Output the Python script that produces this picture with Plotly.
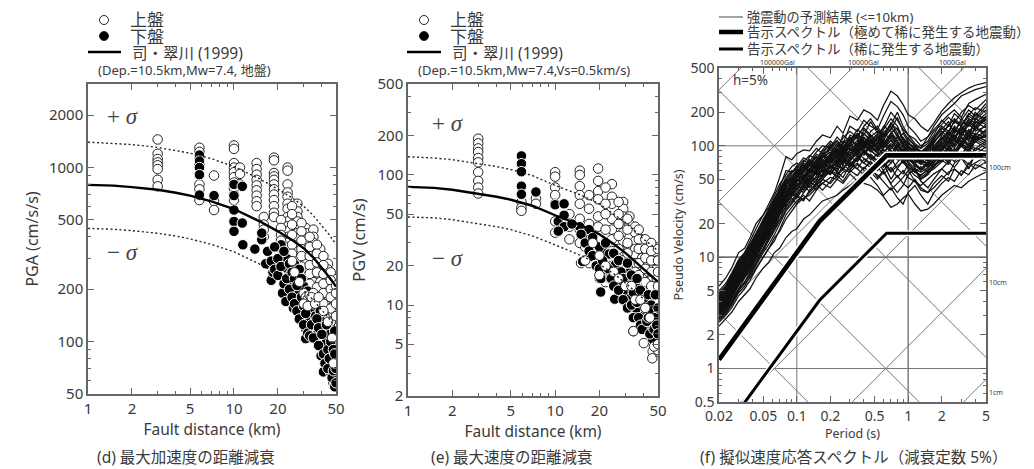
import plotly.graph_objects as go
import math

W, H = 1034, 469
FONT = "Noto Sans, Noto Sans CJK JP, sans-serif"
TXT = "#3a3a3a"
AX = "#666666"

# ---------- attenuation curves ----------
curve_r = [1, 1.5, 2, 3, 4, 5, 7, 10, 15, 20, 25, 30, 35, 40, 45, 50]
pga_mean = [795, 787, 772, 745, 717, 690, 640, 578, 491, 430, 383, 344, 304, 265, 234, 207]
pga_plus = [1400, 1380, 1355, 1305, 1255, 1210, 1125, 1012, 860, 752, 670, 600, 530, 464, 410, 362]
pga_minus = [447, 442, 434, 419, 404, 389, 362, 328, 279, 245, 219, 197, 173, 152, 135, 119]
pgv_mean = [81, 79.5, 77, 72, 68, 64.5, 58, 49, 41, 35, 29.5, 25.2, 21.5, 18.9, 16.8, 15.1]
pgv_plus = [138, 135, 131, 122, 116, 110, 99, 83, 70, 60, 50, 43, 37, 32, 29, 26]
pgv_minus = [47.5, 46.8, 45.3, 42.4, 40, 38, 34, 29, 24, 20.6, 17.4, 14.8, 12.6, 11.1, 9.9, 8.9]

# ---------- PGA scatter ----------
pga_up_r = [3]*8 + [5.8]*7 + [7.3]*3 + [10]*10 + [11]*3 + [14.3]*9 + [18.8]*12 + [16]*4 + [23.3]*14 + [21]*5 + [27.2]*10 + [31]*9 + [35]*11 + [39]*10 + [44]*10 + [48]*12 + [25]*7 + [29]*7 + [33]*6 + [37]*6 + [41]*6 + [46]*6 + [50]*7
pga_up_v = [1450, 1200, 1120, 1070, 1030, 980, 850, 780,
            1300, 1230, 1150, 1050, 800, 750, 650,
            900, 640, 570,
            1340, 1280, 1060, 1000, 940, 880, 820, 760, 700, 650,
            1000, 920, 800,
            1060, 980, 910, 850, 790, 740, 690, 640, 600,
            1140, 1100, 930, 890, 850, 800, 750, 700, 650, 600, 550, 520,
            520, 470, 440, 400,
            1000, 960, 800, 720, 680, 620, 580, 520, 490, 460, 430, 400, 370, 350,
            500, 450, 410, 380, 340,
            620, 560, 520, 490, 450, 420, 390, 360, 330, 300,
            450, 420, 390, 360, 330, 300, 280, 250, 220,
            440, 400, 370, 340, 310, 290, 260, 240, 220, 190, 170,
            340, 300, 280, 260, 240, 220, 200, 180, 160, 150,
            280, 260, 240, 220, 200, 190, 170, 150, 135, 120,
            230, 210, 190, 175, 160, 145, 130, 120, 95, 80, 65, 58,
            600, 540, 470, 410, 360, 320, 280,
            480, 430, 380, 340, 310, 270, 240,
            400, 350, 310, 275, 245, 215,
            360, 320, 285, 250, 205, 180,
            310, 275, 245, 215, 190, 165,
            250, 225, 200, 180, 155, 130,
            210, 190, 165, 140, 115, 90, 70]
pga_low_r = [5.8, 5.8, 5.8, 5.8, 5.8, 7.3, 10, 10, 10, 10, 10, 11.4, 11.4, 11.5, 13.9, 15.5, 16.5, 15.5, 18, 18.5, 20, 21, 21.3, 21.5, 22.7, 23, 23, 24, 25, 25.5, 26, 27, 28, 29, 30, 31, 31, 31, 33, 34, 36, 36, 36, 37, 39, 39.5, 40, 40.5, 41, 42, 43, 45, 46, 46, 47, 47, 49, 49, 49, 49,
             17, 18, 19, 19, 20, 20, 21, 22, 22, 23, 24, 24, 25, 25, 26, 26, 27, 27, 28, 28, 29, 29, 30, 30, 31, 32, 32, 33, 33, 34, 35, 35, 37, 38, 38, 40, 41, 42, 43, 44, 44, 45, 46, 47, 48, 48, 49, 49, 50, 50]
pga_low_v = [1180, 1090, 1000, 910, 695, 690, 800, 690, 570, 490, 430, 780, 480, 360, 340, 385, 280, 420, 225, 250, 350, 360, 310, 190, 170, 263, 300, 240, 214, 156, 278, 190, 170, 140, 208, 167, 118, 104, 130, 150, 140, 123, 105, 110, 150, 83, 130, 95, 67, 120, 100, 110, 89, 66, 73, 85, 100, 75, 62, 55,
             330, 290, 260, 350, 300, 240, 270, 215, 330, 230, 200, 280, 180, 250, 165, 230, 150, 210, 260, 135, 180, 230, 125, 160, 145, 195, 112, 108, 175, 125, 105, 165, 135, 95, 120, 110, 85, 75, 125, 90, 70, 80, 100, 62, 90, 68, 115, 85, 70, 58]
pga_up_top_r = [30, 31, 32, 33, 34, 35, 30, 32, 34, 36, 38, 41, 44, 47, 48, 28, 26, 25]
pga_up_top_v = [190, 180, 175, 185, 170, 190, 165, 160, 180, 165, 180, 150, 130, 105, 75, 220, 250, 290]

# ---------- PGV scatter ----------
pgv_up_r = [3]*10 + [5.9]*3 + [7.4]*2 + [10]*7 + [14.7]*8 + [19.6]*8 + [24.3]*8 + [29]*9 + [32]*8 + [35]*9 + [39]*9 + [43]*9 + [46]*10 + [49]*9 + [34, 40, 15, 16, 21, 26] + [12.5]*3 + [17]*6 + [22]*8 + [27]*7 + [31]*6 + [37]*6 + [41]*7 + [45]*7 + [50]*8
pgv_up_v = [190, 175, 160, 150, 135, 125, 105, 90, 80, 72,
            62, 56, 53, 66, 60,
            105, 97, 80, 70, 60, 44, 36,
            108, 100, 82, 70, 60, 46, 38, 30,
            112, 90, 75, 65, 48, 40, 32, 22,
            85, 68, 60, 46, 38, 32, 26, 20,
            62, 55, 48, 42, 36, 31, 26, 21, 17,
            48, 42, 37, 33, 28, 24, 19, 15,
            40, 36, 31, 27, 24, 21, 18, 14, 11,
            32, 29, 26, 23, 20, 17, 14, 11, 9,
            30, 27, 24, 21, 18, 15, 12, 9.5, 7.5,
            28, 25, 22, 19, 16.5, 14, 11, 8, 5.8, 4.4,
            25, 22, 19, 16, 14, 11, 8.5, 6.5, 4.8,
            6.3, 5.1, 21, 28, 18, 14,
            50, 40, 32,
            70, 55, 42, 34, 26, 21,
            80, 60, 50, 38, 30, 24, 19, 15,
            62, 50, 42, 34, 27, 21, 16,
            46, 38, 30, 25, 20, 15,
            38, 32, 27, 21, 17, 13,
            32, 27, 23, 19, 15, 12, 9,
            30, 26, 22, 18, 14, 10, 7,
            27, 22, 18, 14, 11, 8, 6, 4.5]
pgv_low_r = [5.9, 5.9, 5.9, 5.9, 5.9, 7.4, 10, 10.5, 11.5, 11.5, 11.5, 10.5, 14.7, 15.4, 15.9, 17, 18.3, 20.4, 21, 20, 23.3, 25.4, 25.8, 26, 27, 30.6, 30.6, 30.6, 31.7, 33, 35, 35.8, 36, 38, 40.7, 40.7, 42, 45.8, 45.8, 47,
             13, 15, 16, 17, 18, 18, 19, 20, 20, 20.5, 21, 22, 23, 24, 25, 25, 27, 27, 28, 29, 29, 31, 31, 32, 33, 33, 34, 34, 36, 36, 37, 38, 38, 39, 40, 41, 42, 43, 43, 44, 45, 46, 47, 48, 48, 49, 50, 50]
pgv_low_v = [140, 122, 106, 82, 71, 74, 59, 44, 60, 49, 40, 37, 40, 21.6, 34, 38, 29.5, 12.6, 27, 16, 24.7, 11.1, 20.6, 17.6, 14.5, 15.3, 12.8, 10.3, 17.6, 11.5, 14.5, 9.3, 12, 11, 8.5, 6.9, 9.8, 7.2, 5.5, 8.5,
             42, 35, 30, 26, 33, 24, 20, 28, 19, 16, 22, 30, 19, 16, 25, 14, 22, 13, 18, 16, 11, 21, 9.5, 14, 17, 10, 12.5, 8, 16, 10.5, 8, 13, 7, 6.5, 11, 9.5, 7.5, 12, 8, 6, 10, 9, 6.5, 12, 8, 7, 9.5, 6]
pgv_up_top_r = [18, 20, 22, 25, 27, 30, 33, 35, 38, 41, 44, 47, 50, 20, 16, 45.7, 34]
pgv_up_top_v = [30, 24, 20, 18, 16, 14, 14, 11, 11, 9.5, 8, 4.8, 5, 17, 22, 3.9, 6.3]

# ---------- response spectra ----------
periods = [0.02, 0.023, 0.026, 0.03, 0.034, 0.038, 0.043, 0.05, 0.056, 0.063, 0.07, 0.08, 0.09, 0.1, 0.115, 0.13, 0.15, 0.17, 0.2, 0.23, 0.26, 0.3, 0.35, 0.4, 0.46, 0.53, 0.6, 0.7, 0.8, 0.9, 1.0, 1.15, 1.3, 1.5, 1.7, 2.0, 2.3, 2.6, 3.0, 3.5, 4.0, 5.0]
s01 = [5.5,6.5,8,11,12,15,20,24,30,38,52,80,75,85,92,90,110,125,118,150,130,185,170,210,195,170,230,310,280,235,190,175,150,135,160,205,240,270,300,330,350,370]
s02 = [2.4,2.8,3.2,4,4.6,5.2,6.5,8,9,11,12,15,17,18,22,24,28,32,34,36,40,44,50,46,44,40,35,28,30,34,37,30,26,27,30,36,40,44,42,48,52,58]
s03 = [4.8,5.5,7,9,11,13,16,22,27,33,42,60,58,65,78,72,88,100,96,120,105,150,135,170,150,140,185,250,225,190,150,130,110,120,150,190,215,240,280,300,320,340]
s04 = [2.8,3.2,3.8,5,5.8,6.5,8,10,12,15,17,22,26,30,34,36,42,46,52,50,58,62,70,60,58,55,48,40,46,52,60,48,40,38,42,50,58,62,55,65,70,80]
s05 = [3.5,4,5,6.5,8,9,11,15,19,23,30,36,44,40,52,60,55,72,68,85,78,100,88,110,95,120,105,130,110,85,92,75,70,85,100,120,105,140,125,155,140,175]
s06 = [3,3.6,4.4,5.5,7,8.5,10,13,16,21,26,32,38,46,42,50,62,58,78,70,90,82,105,92,115,100,80,95,120,105,80,70,62,70,78,92,120,100,135,110,150,120]
s07 = [4,4.8,6,8,9.5,11,14,18,23,29,34,45,50,62,58,70,66,85,92,80,105,120,95,130,110,95,125,160,130,100,110,90,75,95,115,140,165,130,175,150,200,160]
s08 = [3.2,3.8,4.6,6,7,8,10.5,14,17,20,25,30,36,42,38,46,52,60,55,66,62,75,85,78,70,62,72,60,70,82,70,58,55,60,68,75,85,95,82,100,90,105]
s09 = [4.4,5.2,6.5,8.5,10,12,15,20,25,32,38,50,46,58,70,65,80,72,95,110,90,125,115,100,135,150,120,140,180,135,115,100,95,105,125,170,150,195,170,210,185,240]
s10 = [2.9,3.4,4.2,5.2,6.5,7.5,9.5,12,15,18,24,28,34,30,38,44,40,50,60,52,68,60,78,88,75,85,70,50,62,75,85,65,50,55,65,80,70,90,100,85,110,95]
s11 = [3.8,4.5,5.5,7.5,8.5,10,13,17,21,27,30,42,48,55,50,62,75,68,82,95,85,110,125,105,90,110,130,115,95,120,100,80,85,100,90,115,135,110,150,125,165,145]
s12 = [3.4,4,4.8,6.2,7.5,9,11.5,14,18,22,28,34,40,36,46,55,48,65,58,75,70,88,80,100,115,95,85,105,90,70,78,85,70,65,75,95,85,105,120,100,125,110]
s13 = [5,5.8,7.2,9.5,11,14,18,24,28,36,45,55,65,70,62,80,95,85,105,90,125,110,140,125,165,130,145,200,170,140,125,105,95,120,140,165,190,210,180,240,260,290]
s14 = [2.7,3.1,3.7,4.8,5.5,6.8,8.5,11,13,16,20,26,30,35,32,40,45,40,48,58,52,68,62,55,65,52,60,45,38,44,55,62,48,42,50,62,55,70,78,62,85,72]
s15 = [3.6,4.3,5.2,7,8,9.5,12,16,20,26,32,38,46,52,60,52,66,75,70,88,95,82,108,95,125,110,95,120,100,90,105,95,85,72,95,105,125,145,120,160,135,150]
s16 = [4.2,4.9,6.2,7.8,9.5,11.5,14.5,19,24,28,36,48,42,55,65,75,60,85,78,100,92,115,100,140,120,105,140,175,150,115,95,85,78,90,110,130,150,175,155,190,220,200]
s17 = [3.1,3.7,4.5,5.8,6.8,8.2,10,13.5,16,20,26,30,36,44,40,48,58,52,64,72,60,80,72,88,80,72,60,70,85,78,65,58,65,58,70,85,75,90,105,88,115,100]
s18 = [3.9,4.6,5.8,7.2,9,10.5,13,17,22,28,32,44,52,48,58,68,62,78,88,75,95,105,120,100,110,125,105,125,110,95,85,95,90,80,85,110,130,120,140,170,150,185]
s19 = [2.6,3,3.5,4.5,5.2,6.2,7.8,10,12,14,18,24,28,32,36,32,40,46,42,50,46,56,48,58,52,44,36,42,34,30,38,44,36,30,38,46,52,48,60,55,68,62]
s20 = [4.6,5.4,6.8,9,10.5,12.5,16,21,26,34,40,52,60,56,72,82,76,92,110,98,118,135,118,150,175,140,120,155,200,150,125,115,100,110,135,155,180,160,200,230,210,260]
s21 = [3.3,3.9,4.7,6.2,7.2,8.8,11,14.5,18,23,27,35,42,50,44,52,60,72,62,70,80,72,90,82,100,88,78,90,75,85,75,68,60,68,80,72,92,82,100,92,115,125]
s22 = [3.7,4.4,5.4,6.8,8.2,9.8,12.5,16.5,21,25,33,40,45,54,64,56,70,64,86,76,100,92,85,118,100,90,110,95,120,100,88,78,72,85,98,88,110,125,105,135,115,140]
s23 = [4.1,4.7,6,7.6,9.2,11,14,18,22,30,35,46,54,60,52,68,80,70,84,105,88,105,130,112,98,118,102,130,145,110,98,88,82,78,92,120,100,130,145,120,175,155]
s24 = [3,3.5,4.3,5.6,6.6,7.8,9.8,13,15.5,19,24,31,35,40,48,42,50,56,68,60,72,66,82,70,64,76,66,78,62,56,68,60,52,58,62,72,82,72,88,78,95,88]
s25 = [4.5,5.2,6.6,8.8,10.2,12,15.5,20.5,25,31,39,48,56,66,58,74,70,90,100,86,110,100,125,145,125,110,150,135,110,130,108,92,88,100,120,150,135,165,150,185,170,210]
s26 = [3.5,4.1,5,6.6,7.8,9.2,11.5,15.5,19.5,24,29,37,43,48,56,48,58,68,76,66,84,78,92,100,88,95,115,100,85,100,90,72,78,92,82,100,120,100,130,115,145,130]
s27 = [4.3,5,6.3,8.2,9.8,11.8,15,19.5,24,30,37,47,44,53,62,70,64,80,74,92,82,98,112,96,108,130,112,145,125,105,118,100,88,82,105,135,120,150,135,175,160,195]
s28 = [3.2,3.7,4.6,5.9,7,8.4,10.8,14,17.5,21,26,33,39,35,44,52,46,56,66,58,76,68,74,92,78,68,88,74,100,88,72,62,58,64,72,80,95,85,105,95,120,105]
s29 = [3.3,3.9,4.9,6.4,7.6,9,11.2,15,18,23,28,36,40,47,54,60,56,66,72,82,74,90,100,86,96,108,90,100,84,92,82,74,68,76,88,104,92,112,98,122,108,128]
s30 = [3.6,4.2,5.3,6.9,8.4,9.6,12.8,16,20.5,24.5,31,39,47,43,50,58,68,62,74,66,86,96,84,104,92,80,96,112,94,78,86,78,72,70,82,96,112,96,118,104,130,118]
s31 = [2.9,3.3,4,5.1,6,7.2,9,12,14.5,18,22,29,32,38,44,39,47,52,58,54,62,58,68,62,72,64,56,64,52,60,52,48,44,50,56,62,72,64,78,68,82,76]
s32 = [4,4.7,5.9,7.4,8.8,10.8,13.5,17.5,22.5,26,34,41,49,57,66,58,72,82,76,94,84,104,92,120,104,118,100,122,105,88,96,86,80,90,108,128,112,142,128,165,145,180]
s33 = [3.4,3.9,5,6.4,7.4,8.8,11.2,14.8,19,22,28,35,40,44,52,46,60,54,66,62,78,70,76,90,82,72,84,70,82,94,78,66,62,72,64,84,98,88,110,100,122,112]
s34 = [4.2,5,6.1,8.1,9.2,11.4,14.2,18.5,23,27,35,44,40,51,59,66,72,64,82,90,78,92,105,88,102,120,98,112,95,85,92,80,74,86,100,116,135,118,150,132,160,170]
s35 = [3.7,4.3,5.5,7,8.6,10,12.2,17,20,25.5,31,37,44,50,46,56,64,58,72,80,68,84,94,104,90,82,92,84,102,90,78,70,76,66,84,100,90,115,102,128,118,135]
s36 = [3.1,3.6,4.4,5.7,6.7,8,10.2,13.2,16.5,19.5,25,32,37,34,42,47,44,54,60,56,64,70,62,76,68,60,70,58,66,72,62,54,50,56,66,74,68,84,76,92,84,98]
s37 = [4.4,5.1,6.4,8.3,10,11.8,15.2,20,24.5,32,36,46,52,58,68,60,74,82,96,84,100,115,100,128,112,100,132,150,120,105,96,88,84,94,112,125,155,135,165,150,190,175]
s38 = [3.5,4.2,5.1,6.7,7.9,9.4,11.8,15.8,19,24.2,30,38,42,48,54,62,58,70,64,78,88,76,90,98,108,92,102,88,76,88,98,84,76,68,78,92,104,118,100,124,112,122]
s39 = [2.8,3.3,3.9,5,5.9,7,8.8,11.5,14,17,21,27,31,36,33,38,44,50,46,54,48,60,54,64,58,50,58,46,54,46,42,50,42,38,46,54,48,62,54,70,62,72]
s40 = [3.9,4.4,5.7,7.2,8.7,10.4,13,17.2,21.5,26.5,32,43,46,54,48,62,70,64,80,72,90,82,96,110,96,86,105,92,78,90,100,90,80,74,90,108,96,122,110,140,125,155]
s41 = [3.3,3.8,4.8,6.1,7.2,8.6,11,14.2,17.8,21.5,27,34,38,44,50,44,54,62,56,68,74,64,78,70,84,74,64,76,88,74,64,58,54,62,74,82,72,92,82,105,94,110]
s42 = [4.7,5.5,6.9,9.2,10.8,13,16.5,22,26.5,33,41,50,58,62,74,68,84,78,100,112,96,115,128,108,120,135,118,160,140,115,105,98,86,96,118,145,128,170,150,195,175,225]
spectra = [s01,s02,s03,s04,s05,s06,s07,s08,s09,s10,s11,s12,s13,s14,s15,s16,s17,s18,s19,s20,s21,s22,s23,s24,s25,s26,s27,s28,s29,s30,s31,s32,s33,s34,s35,s36,s37,s38,s39,s40,s41,s42]
assert all(len(s) == len(periods) for s in spectra)
assert len(pga_up_r) == len(pga_up_v) and len(pga_low_r) == len(pga_low_v)
assert len(pgv_up_r) == len(pgv_up_v) and len(pgv_low_r) == len(pgv_low_v)

code_T = [0.02, 0.16, 0.64, 5]
code_rare2 = [1.2, 21, 82, 82]
code_rare1 = [0.24, 4.1, 16.4, 16.4]

disp_cm = [0.01, 0.1, 1, 10, 100]
acc_gal = [1, 10, 100, 1000, 10000, 100000]
grid_T = [0.1, 1]
grid_V = [1, 10, 100]
diag_T = [0.02, 5]

dist_ticks = [1, 2, 5, 10, 20, 50]
dist_minor = [3, 4, 6, 7, 8, 9, 30, 40]
pga_ticks = [50, 100, 200, 500, 1000, 2000]
pga_minor = [60, 70, 80, 90, 300, 400, 600, 700, 800, 900, 3000]
pgv_ticks = [2, 5, 10, 20, 50, 100, 200, 500]
pgv_minor = [3, 4, 6, 7, 8, 9, 30, 40, 60, 70, 80, 90, 300, 400]
T_ticks = [0.02, 0.05, 0.1, 0.2, 0.5, 1, 2, 5]
T_minor = [0.03, 0.04, 0.06, 0.07, 0.08, 0.09, 0.3, 0.4, 0.6, 0.7, 0.8, 0.9, 3, 4]
V_ticks = [0.5, 1, 2, 5, 10, 20, 50, 100, 200, 500]
V_minor = [0.6, 0.7, 0.8, 0.9, 3, 4, 6, 7, 8, 9, 30, 40, 60, 70, 80, 90, 300, 400]

fx = lambda x: x / W
fy = lambda y: 1 - y / H

fig = go.Figure()

def scatter_panel(xa, ya, up_r, up_v, low_r, low_v, top_r, top_v, mean, plus, minus):
    open_marker = dict(size=9.5, color="white", line=dict(color="#222", width=1))
    fig.add_trace(go.Scatter(x=up_r, y=up_v, mode="markers", xaxis=xa, yaxis=ya, showlegend=False, marker=open_marker))
    fig.add_trace(go.Scatter(x=low_r, y=low_v, mode="markers", xaxis=xa, yaxis=ya, showlegend=False,
                             marker=dict(size=10.5, color="black", line=dict(color="white", width=1))))
    fig.add_trace(go.Scatter(x=top_r, y=top_v, mode="markers", xaxis=xa, yaxis=ya, showlegend=False, marker=open_marker))
    for arr in (plus, minus):
        fig.add_trace(go.Scatter(x=curve_r, y=arr, mode="lines", xaxis=xa, yaxis=ya, showlegend=False,
                                 line=dict(color="#222", width=1.4, dash="2px,2.5px")))
    fig.add_trace(go.Scatter(x=curve_r, y=mean, mode="lines", xaxis=xa, yaxis=ya, showlegend=False,
                             line=dict(color="black", width=2.4)))

scatter_panel("x", "y", pga_up_r, pga_up_v, pga_low_r, pga_low_v, pga_up_top_r, pga_up_top_v, pga_mean, pga_plus, pga_minus)
scatter_panel("x2", "y2", pgv_up_r, pgv_up_v, pgv_low_r, pgv_low_v, pgv_up_top_r, pgv_up_top_v, pgv_mean, pgv_plus, pgv_minus)

# tripartite grid
GRID = "#777777"
def grid_line(xs, ys, w=1.0):
    fig.add_trace(go.Scatter(x=xs, y=ys, mode="lines", xaxis="x3", yaxis="y3", showlegend=False,
                             line=dict(color=GRID, width=w)))
for t, w in zip(grid_T, [1.0, 1.4]):
    grid_line([t, t], [0.5, 500], w)
for v, w in zip(grid_V, [1.0, 1.6, 1.0]):
    grid_line([0.02, 5], [v, v], w)
for d in disp_cm:
    grid_line(diag_T, [2 * 3.14159 * d / t for t in diag_T])
for a in acc_gal:
    grid_line(diag_T, [a * t / (2 * 3.14159) for t in diag_T])

for s in spectra:
    fig.add_trace(go.Scatter(x=periods, y=s, mode="lines", xaxis="x3", yaxis="y3", showlegend=False,
                             line=dict(color="#111111", width=1.25)))
for arr, wb, wh in ((code_rare2, 4.6, 8), (code_rare1, 3, 6)):
    fig.add_trace(go.Scatter(x=code_T, y=arr, mode="lines", xaxis="x3", yaxis="y3", showlegend=False,
                             line=dict(color="white", width=wh)))
    fig.add_trace(go.Scatter(x=code_T, y=arr, mode="lines", xaxis="x3", yaxis="y3", showlegend=False,
                             line=dict(color="black", width=wb)))

def axis(dom, rng, ticks, minor, **kw):
    return dict(type="log", domain=dom, range=rng, tickvals=ticks, ticktext=[str(t) for t in ticks],
                ticks="inside", ticklen=6, tickwidth=1.2, tickcolor=AX, automargin=False,
                minor=dict(tickvals=minor, ticks="inside", ticklen=3, tickwidth=1, tickcolor=AX),
                showgrid=False, zeroline=False, showline=True, linecolor=AX, linewidth=1.5, mirror="ticks",
                tickfont=dict(size=kw.pop("tfs", 15), color=TXT, family=FONT), **kw)

lg = math.log10
def tf(s, sz, st=4):
    return dict(text=s, font=dict(size=sz, color=TXT, family=FONT), standoff=st)

layout = dict(
    width=W, height=H, margin=dict(l=0, r=0, t=0, b=0), paper_bgcolor="white", plot_bgcolor="white",
    showlegend=False, font=dict(family=FONT, color=TXT),
    xaxis=axis([fx(88), fx(336)], [0, lg(50)], dist_ticks, dist_minor, anchor="y", title=tf("Fault distance (km)", 15.5, 2)),
    yaxis=axis([fy(394), fy(84)], [lg(50), 3.48], pga_ticks, pga_minor, anchor="x", title=tf("PGA (cm/s/s)", 16, 6)),
    xaxis2=axis([fx(408), fx(658)], [0, lg(50)], dist_ticks, dist_minor, anchor="y2", title=tf("Fault distance (km)", 15.5, 2)),
    yaxis2=axis([fy(396), fy(84)], [lg(2), lg(500)], pgv_ticks, pgv_minor, anchor="x2", title=tf("PGV (cm/s)", 16.5, 8)),
    xaxis3=axis([fx(719), fx(986)], [lg(0.02), lg(5)], T_ticks, T_minor, anchor="y3", tfs=14, title=tf("Period (s)", 12.5, 2)),
    yaxis3=axis([fy(402), fy(68)], [lg(0.5), lg(500)], V_ticks, V_minor, anchor="x3", tfs=14, title=tf("Pseudo Velocity (cm/s)", 12.5, 4)),
)
fig.update_layout(**layout)

shapes = []
annots = []
def text(x, y, s, size, anchor="center", color=TXT, family=FONT):
    annots.append(dict(xref="paper", yref="paper", x=fx(x), y=fy(y), text=s, showarrow=False, xanchor=anchor,
                       yanchor="middle", font=dict(size=size, color=color, family=family)))
def hline(x0, x1, y, w, color="black"):
    shapes.append(dict(type="line", xref="paper", yref="paper", x0=fx(x0), x1=fx(x1), y0=fy(y), y1=fy(y),
                       line=dict(color=color, width=w)))
def circ(cx, cy, r, fill):
    shapes.append(dict(type="circle", xref="paper", yref="paper", x0=fx(cx - r), x1=fx(cx + r),
                       y0=fy(cy + r), y1=fy(cy - r), fillcolor=fill, line=dict(color="#222", width=1)))

# panel legends
for mx, tx, lx0, lx1, ltx, dtx, dep in ((104, 147, 88, 121, 130, 96, "(Dep.=10.5km,Mw=7.4, 地盤)"),
                                        (424, 467, 407, 441, 450, 416, "(Dep.=10.5km,Mw=7.4,Vs=0.5km/s)")):
    circ(mx, 20, 4.5, "white")
    circ(mx, 36, 4.5, "black")
    text(tx, 20, "上盤", 17)
    text(tx, 36, "下盤", 17)
    hline(lx0, lx1, 52, 2.6)
    text(ltx, 53, "司・翠川 (1999)", 15.5, "left")
    text(dtx, 70, dep, 13, "left")

SERIF = "Liberation Serif, serif"
for x, up, lo in ((123, 117, 252), (448, 123, 258)):
    text(x, up, "+ <i>σ</i>", 23, color="#444", family=SERIF)
    text(x, lo, "− <i>σ</i>", 23, color="#444", family=SERIF)

text(186, 457, "(d) 最大加速度の距離減衰", 15.5)
text(512, 457, "(e) 最大速度の距離減衰", 15.5)
text(853, 457, "(f) 擬似速度応答スペクトル（減衰定数 5%）", 15.5)

# spectra legend
hline(719, 743, 17, 0.9, "#333")
hline(719, 743, 32, 4.5)
hline(719, 743, 49, 3)
text(745, 17, "強震動の予測結果 (<=10km)", 13.2, "left")
text(745, 32, "告示スペクトル（極めて稀に発生する地震動）", 13.5, "left")
text(745, 49, "告示スペクトル（稀に発生する地震動）", 13.5, "left")

text(750, 80, "h=5%", 13.5)
for x, s in ((777, "100000Gal"), (863, "10000Gal"), (952, "1000Gal")):
    text(x, 62, s, 7)
for x, y, s in ((1000, 168, "100cm"), (998, 282, "10cm"), (996, 392, "1cm")):
    text(x, y, s, 7)

fig.update_layout(shapes=shapes, annotations=annots)
fig.write_html("out.html", config={"displayModeBar": False}, post_script="document.body.style.margin='0';")
